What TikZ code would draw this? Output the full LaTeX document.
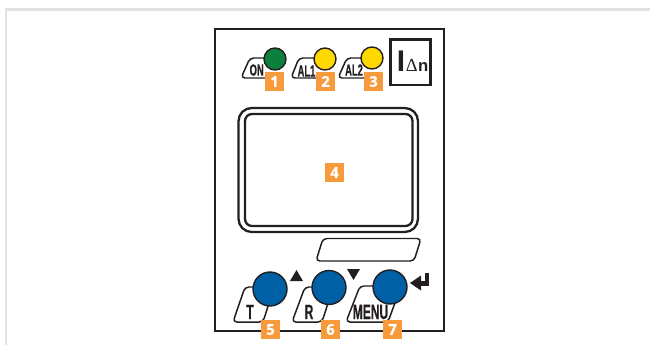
\documentclass[tikz,border=0pt]{standalone}
\usepackage{fontspec}
\usepackage{tikz}
\setmainfont{Liberation Sans}
\newfontfamily\tagfont[FakeStretch=0.58,FakeBold=0.5]{Liberation Sans Bold}
\newfontfamily\bigifont{Liberation Sans Bold}
\newfontfamily\numfont[FakeBold=0.6]{Open Sans Bold}
\usetikzlibrary{arrows.meta,positioning,calc}
\definecolor{pgrim}{RGB}{226,226,226}
\definecolor{pink}{RGB}{35,31,32}
\definecolor{pbadge}{RGB}{247,154,59}
\definecolor{pgreen}{RGB}{10,127,62}
\definecolor{pyellow}{RGB}{255,216,0}
\definecolor{pblue}{RGB}{0,96,165}
\tikzset{
  rim/.style={draw=pgrim, line width=1.5pt},
  panel/.style={draw=pink, line width=1.3pt},
  keytag/.style={draw=pink, line width=0.85pt, fill=white, rounded corners=2.2pt},
  disp/.style={draw=pink, line width=1.3pt},
  led/.style={circle, draw=pink, line width=0.8pt, inner sep=0pt, minimum size=0.44cm},
  keybtn/.style={circle, draw=pink, line width=0.8pt, fill=pblue, inner sep=0pt, minimum size=0.68cm},
  badge/.style={fill=pbadge, text=white, inner sep=0pt, minimum size=0.38cm,
                font=\numfont\fontsize{8.4}{8.4}\selectfont},
  smalltag/.style={text=pink, font=\tagfont\fontsize{9.2}{9.2}\selectfont},
  bigtag/.style={text=pink, font=\tagfont\fontsize{11.8}{11.8}\selectfont},
}
\begin{document}
\begin{tikzpicture}[x=0.02cm, y=-0.02cm]
    \useasboundingbox (0,0) rectangle (650,345);
    \draw[rim] (6,345) -- (6,9.5) -- (650,9.5);
    \draw[panel] (215,29) rectangle (444,331);
    % top row
    \draw[keytag] (272,58) -- (250,58) -- (241,78) -- (272,78);
    \draw[keytag] (322,58) -- (299,58) -- (291,78) -- (322,78);
    \draw[keytag] (369,58) -- (347,58) -- (338,78) -- (369,78);
    \node[smalltag] (ontag) at (256.7,70) {ON};
    \node[smalltag] (aonetag) at (306.5,71) {AL1};
    \node[smalltag] (atwotag) at (354,70) {AL2};
    \node[led, fill=pgreen] (ledon) at (275,59) {};
    \node[led, fill=pyellow] (ledaone) at (325,59) {};
    \node[led, fill=pyellow] (ledatwo) at (372,58) {};
    \node[badge] (bone) at (274.5,81.5) {1};
    \node[badge] (btwo) at (325.5,81.5) {2};
    \node[badge] (bthree) at (373.5,81.5) {3};
    \draw[panel] (390.5,39.5) rectangle (430.5,85);
    \node[anchor=base west, inner sep=0pt, text=pink] (idn) at (396.5,71.5)
      {\bigifont\fontsize{17}{17}\selectfont I\kern0.4pt
       {\fontspec{Liberation Serif}\fontsize{10.5}{10.5}\selectfont Δ}\kern0.2pt{\bigifont\fontsize{9.5}{9.5}\selectfont n}};
    % display
    \draw[disp, rounded corners=7.5pt] (238.5,108) rectangle (418,232);
    \draw[disp, rounded corners=4pt] (245,114) rectangle (412.5,226);
    \node[badge] (bfour) at (334.5,172.5) {4};
    \draw[keytag] (323,238.5) -- (421,238.5) -- (414,261) -- (316,261) -- cycle;
    % keys
    \draw[keytag] (270,287) -- (245,287) -- (233,322) -- (263,322) -- (270,300);
    \draw[keytag] (329,287) -- (305,287) -- (292,322) -- (322,322) -- (329,300);
    \draw[keytag] (390,286) -- (360,286) -- (346,322) -- (388,322) -- (396,300);
    \node[bigtag] (ttag) at (250,312) {T};
    \node[bigtag] (rtag) at (309,312) {R};
    \node[bigtag] (menutag) at (370.5,312) {MENU};
    \node[keybtn] (keyt) at (270,289) {};
    \node[keybtn] (keyr) at (329,287.5) {};
    \node[keybtn] (keym) at (390,287) {};
    \node[badge] (bfive) at (270.5,329.5) {5};
    \node[badge] (bsix) at (330.5,329.5) {6};
    \node[badge] (bseven) at (392.5,329.5) {7};
    \fill[pink] (290,281) -- (303,281) -- (296.5,270) -- cycle;
    \fill[pink] (347,269) -- (360,269) -- (353.5,280) -- cycle;
    \fill[pink] (410,283) -- (421,275.5) -- (421,290.5) -- cycle;
    \draw[pink, line width=2.4pt] (419,283.5) -- (427,283.5) -- (427,272.5);
  \end{tikzpicture}
\end{document}
